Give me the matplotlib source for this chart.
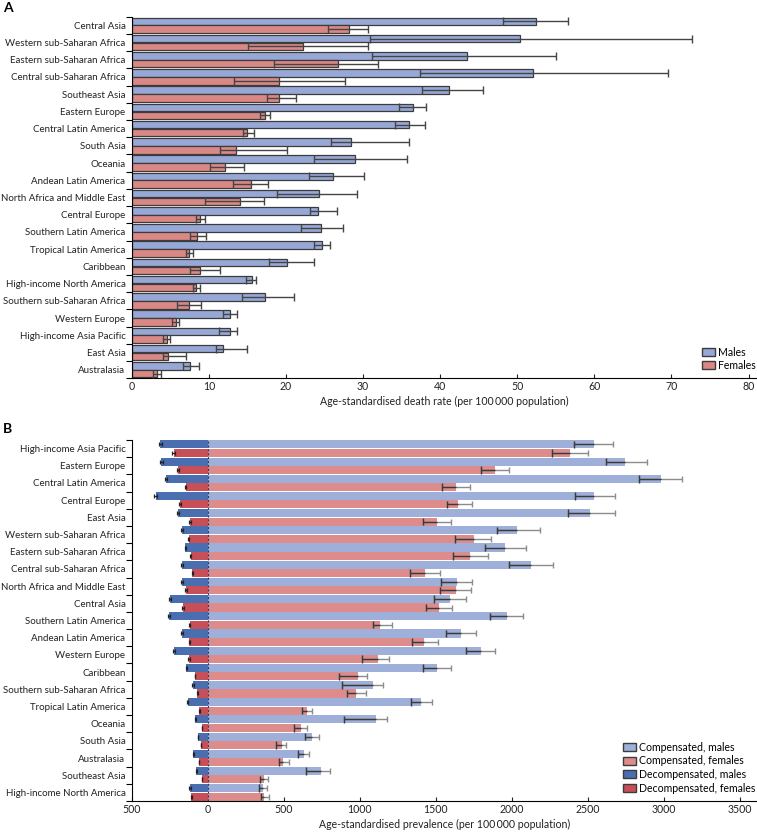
import matplotlib
matplotlib.use("Agg")
import matplotlib.pyplot as plt
import numpy as np
from matplotlib.patches import Patch
from matplotlib.ticker import FuncFormatter, FixedLocator

plt.rcParams['font.family'] = ['Lato', 'DejaVu Sans']
plt.rcParams['font.size'] = 7.4

# ---------------- Panel A data ----------------
regions_a = ["Central Asia", "Western sub-Saharan Africa", "Eastern sub-Saharan Africa",
             "Central sub-Saharan Africa", "Southeast Asia", "Eastern Europe",
             "Central Latin America", "South Asia", "Oceania", "Andean Latin America",
             "North Africa and Middle East", "Central Europe", "Southern Latin America",
             "Tropical Latin America", "Caribbean", "High-income North America",
             "Southern sub-Saharan Africa", "Western Europe", "High-income Asia Pacific",
             "East Asia", "Australasia"]
males_a = [52.4, 50.3, 43.5, 52.1, 41.2, 36.5, 36.0, 28.4, 29.0, 26.1,
           24.3, 24.2, 24.6, 24.7, 20.2, 15.6, 17.3, 12.7, 12.7, 11.9, 7.6]
males_a_lo = [48.2, 30.9, 31.2, 37.4, 37.7, 34.7, 34.2, 25.8, 23.7, 23.0,
              18.9, 23.1, 22.0, 23.7, 17.8, 14.8, 14.3, 11.8, 11.3, 10.9, 6.6]
males_a_hi = [56.6, 72.6, 55.0, 69.5, 45.6, 38.1, 38.0, 35.9, 35.7, 30.1,
              29.2, 26.6, 27.4, 25.7, 23.7, 16.1, 21.0, 13.6, 13.7, 14.9, 8.7]
females_a = [28.2, 22.2, 26.7, 19.1, 19.1, 17.3, 15.0, 13.5, 12.1, 15.5,
             14.1, 8.9, 8.5, 7.4, 8.9, 8.4, 7.4, 5.7, 4.6, 4.7, 3.3]
females_a_lo = [25.5, 15.1, 18.5, 13.3, 17.5, 16.7, 14.4, 11.5, 10.1, 13.2,
                9.5, 8.4, 7.5, 7.0, 7.5, 8.0, 5.9, 5.2, 4.1, 4.1, 2.7]
females_a_hi = [30.6, 30.6, 32.0, 27.7, 21.3, 17.9, 15.9, 20.1, 14.5, 17.7,
                17.1, 9.5, 9.7, 8.0, 11.4, 8.8, 9.0, 6.1, 5.0, 7.0, 3.8]
ticks_a = [0, 10, 20, 30, 40, 50, 60, 70, 80]

# ---------------- Panel B data ----------------
regions_b = ["High-income Asia Pacific", "Eastern Europe", "Central Latin America",
             "Central Europe", "East Asia", "Western sub-Saharan Africa",
             "Eastern sub-Saharan Africa", "Central sub-Saharan Africa",
             "North Africa and Middle East", "Central Asia", "Southern Latin America",
             "Andean Latin America", "Western Europe", "Caribbean",
             "Southern sub-Saharan Africa", "Tropical Latin America", "Oceania",
             "South Asia", "Australasia", "Southeast Asia", "High-income North America"]
comp_m = [2537, 2745, 2978, 2539, 2515, 2037, 1958, 2125, 1638, 1592, 1970,
          1666, 1796, 1508, 1090, 1401, 1105, 686, 632, 745, 366]
comp_m_lo = [2410, 2618, 2833, 2412, 2370, 1899, 1824, 1980, 1535, 1491, 1859,
             1566, 1701, 1415, 886, 1336, 899, 640, 592, 645, 340]
comp_m_hi = [2668, 2886, 3122, 2678, 2675, 2182, 2094, 2272, 1741, 1697, 2071,
             1763, 1892, 1603, 1153, 1476, 1178, 734, 668, 805, 388]
comp_f = [2381, 1888, 1634, 1647, 1508, 1748, 1726, 1430, 1634, 1520, 1133,
          1425, 1118, 987, 976, 651, 614, 489, 497, 372, 372]
comp_f_lo = [2267, 1800, 1543, 1572, 1415, 1629, 1616, 1333, 1530, 1436, 1085,
             1340, 1013, 864, 914, 618, 568, 451, 467, 342, 349]
comp_f_hi = [2500, 1984, 1724, 1741, 1603, 1866, 1840, 1530, 1734, 1609, 1214,
             1511, 1191, 1046, 1039, 688, 651, 515, 533, 397, 401]
decomp_m = [312, 305, 276, 342, 193, 171, 147, 169, 171, 248, 253,
            167, 224, 141, 97, 132, 82, 64, 95, 75, 116]
decomp_f = [224, 193, 145, 180, 116, 125, 112, 101, 143, 162, 118,
            121, 123, 84, 68, 55, 38, 44, 57, 38, 108]
decomp_m_err = [10, 10, 8, 10, 6, 6, 5, 6, 6, 8, 8,
                6, 7, 5, 4, 5, 3, 3, 4, 3, 4]
decomp_f_err = [8, 6, 5, 6, 4, 4, 4, 4, 5, 6, 4,
                4, 4, 3, 3, 2, 2, 2, 2, 2, 4]
ticks_b = [-500, 0, 500, 1000, 1500, 2000, 2500, 3000, 3500]

# ---------------- colours ----------------
c_male_a = "#97a8d6"
c_female_a = "#d98886"
c_comp_m = "#9eafd9"
c_comp_f = "#dd8b8b"
c_dec_m = "#4a6fb0"
c_dec_f = "#c64f58"
edge = "#3c3c3c"
txt = "#222222"

fig = plt.figure(figsize=(7.57, 8.34), dpi=100)

W, H = 757.0, 834.0
def axrect(l, t, r, b):
    return [l / W, 1 - b / H, (r - l) / W, (b - t) / H]

def style_axes(ax, nrows, labels, ticks):
    yy = np.arange(nrows)
    ax.set_ylim(nrows - 0.5, -0.5)
    ax.xaxis.set_major_locator(FixedLocator(ticks))
    ax.tick_params(axis='x', direction='in', length=3, width=0.8, pad=2,
                   labelsize=7.6, colors=txt)
    ax.yaxis.set_major_locator(FixedLocator(np.arange(-0.5, nrows, 1.0)))
    ax.yaxis.set_major_formatter(FuncFormatter(lambda v, p: ""))
    ax.yaxis.set_minor_locator(FixedLocator(yy))
    ax.set_yticklabels(labels, minor=True)
    ax.tick_params(axis='y', which='major', direction='out', length=4, width=0.8)
    ax.tick_params(axis='y', which='minor', length=0, pad=4.5, labelsize=7.05,
                   labelcolor=txt)
    for s in ['top', 'right']:
        ax.spines[s].set_visible(False)
    for s in ['left', 'bottom']:
        ax.spines[s].set_linewidth(0.8)

# ---------------- Panel A ----------------
axA = fig.add_axes(axrect(131.7, 16.7, 756.7, 378.3))
n = len(regions_a)
y = np.arange(n)
bh = 0.44
ym = y - 0.23
yf = y + 0.23
axA.barh(ym, males_a, height=bh, color=c_male_a, edgecolor=edge, linewidth=0.9, zorder=2)
axA.barh(yf, females_a, height=bh, color=c_female_a, edgecolor=edge, linewidth=0.9, zorder=2)
for yy, v, lo, hi in [(ym, males_a, males_a_lo, males_a_hi), (yf, females_a, females_a_lo, females_a_hi)]:
    v = np.array(v); lo = np.array(lo); hi = np.array(hi)
    axA.errorbar(v, yy, xerr=[v - lo, hi - v], fmt='none', ecolor="#454545",
                 elinewidth=1.0, capsize=3.0, capthick=1.0, zorder=3)

axA.set_xlim(0, 81.05)
style_axes(axA, n, regions_a, ticks_a)
axA.set_xlabel("Age-standardised death rate (per 100\u2009000 population)", fontsize=7.6,
               labelpad=3, color=txt)
axA.legend(handles=[Patch(facecolor=c_male_a, edgecolor=edge, label="Males"),
                    Patch(facecolor=c_female_a, edgecolor=edge, label="Females")],
           loc='lower right', bbox_to_anchor=(1.01, 0.0), frameon=False, fontsize=7.6,
           handlelength=1.2, handleheight=0.8, handletextpad=0.3, labelspacing=0.2,
           borderaxespad=0.3)

# ---------------- Panel B ----------------
axB = fig.add_axes(axrect(131.7, 440.0, 756.7, 801.0))
n2 = len(regions_b)
y2 = np.arange(n2)
bh2 = 0.47
ym2 = y2 - 0.245
yf2 = y2 + 0.245
cm = np.array(comp_m); cml = np.array(comp_m_lo); cmh = np.array(comp_m_hi)
cf = np.array(comp_f); cfl = np.array(comp_f_lo); cfh = np.array(comp_f_hi)
dm = -np.array(decomp_m); df = -np.array(decomp_f)

axB.barh(ym2, cm, height=bh2, color=c_comp_m, edgecolor='none', zorder=2)
axB.barh(yf2, cf, height=bh2, color=c_comp_f, edgecolor='none', zorder=2)
axB.barh(ym2, dm, height=bh2, color=c_dec_m, edgecolor='none', zorder=2)
axB.barh(yf2, df, height=bh2, color=c_dec_f, edgecolor='none', zorder=2)

for yy, v, lo, hi in [(ym2, cm, cml, cmh), (yf2, cf, cfl, cfh)]:
    axB.errorbar(v, yy, xerr=[v - lo, hi - v], fmt='none', ecolor="#8c8c8c",
                 elinewidth=1.0, capsize=2.5, capthick=1.0, zorder=3)
    axB.hlines(yy, lo, v, color="#3a3a3a", linewidth=1.0, zorder=4)
    axB.vlines(lo, yy - 0.22, yy + 0.22, color="#3a3a3a", linewidth=1.0, zorder=4)
for yy, v, e in [(ym2, dm, decomp_m_err), (yf2, df, decomp_f_err)]:
    axB.errorbar(v, yy, xerr=e, fmt='none', ecolor="#222222", elinewidth=0.9,
                 capsize=1.5, capthick=0.9, zorder=4)

axB.axvline(0, color="#2b3f6b", linewidth=0.8, linestyle=(0, (2.0, 1.5)), zorder=5)

axB.set_xlim(-500, 3610)
style_axes(axB, n2, regions_b, ticks_b)
axB.xaxis.set_major_formatter(FuncFormatter(lambda v, p: f"{abs(int(round(v)))}"))
axB.set_xlabel("Age-standardised prevalence (per 100\u2009000 population)", fontsize=7.6,
               labelpad=3, color=txt)
axB.legend(handles=[Patch(facecolor=c_comp_m, edgecolor=edge, label="Compensated, males"),
                    Patch(facecolor=c_comp_f, edgecolor=edge, label="Compensated, females"),
                    Patch(facecolor=c_dec_m, edgecolor=edge, label="Decompensated, males"),
                    Patch(facecolor=c_dec_f, edgecolor=edge, label="Decompensated, females")],
           loc='lower right', bbox_to_anchor=(1.01, 0.0), frameon=False, fontsize=7.6,
           handlelength=1.2, handleheight=0.8, handletextpad=0.3, labelspacing=0.25,
           borderaxespad=0.3)

fig.text(3 / W, 1 - 8 / H, "A", fontsize=10, fontweight='bold', va='center', ha='left')
fig.text(3 / W, 1 - 429 / H, "B", fontsize=10, fontweight='bold', va='center', ha='left')

fig.savefig("out.png", dpi=100)
